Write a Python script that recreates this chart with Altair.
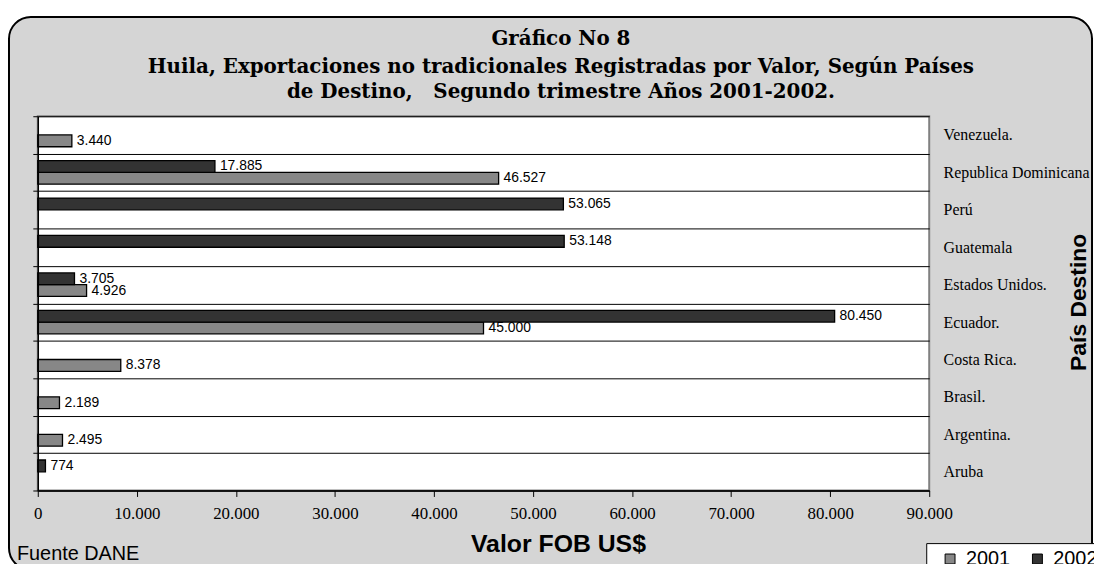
import altair as alt
import pandas as pd

countries = ["Venezuela.", "Republica Dominicana", "Perú", "Guatemala", "Estados Unidos.",
             "Ecuador.", "Costa Rica.", "Brasil.", "Argentina.", "Aruba"]
v2001 = [3440, 46527, None, None, 4926, 45000, 8378, 2189, 2495, None]
v2002 = [None, 17885, 53065, 53148, 3705, 80450, None, None, None, 774]
years = ["2001", "2002"]
x_ticks = [0, 10000, 20000, 30000, 40000, 50000, 60000, 70000, 80000, 90000]
title_lines = ["Gráfico No 8",
               "Huila, Exportaciones no tradicionales Registradas por Valor, Según Países",
               "de Destino,\u00a0\u00a0\u00a0Segundo trimestre Años 2001-2002."]

rows = []
for c, a, b in zip(countries, v2001, v2002):
    if a is not None:
        rows.append({"pais": c, "anio": "2001", "valor": a})
    if b is not None:
        rows.append({"pais": c, "anio": "2002", "valor": b})
df = pd.DataFrame(rows)

W, H = 898, 377
one = pd.DataFrame({"t": ["Fuente DANE"]})
BG = "#d5d5d5"

frame = alt.Chart(one).mark_rect(
    fill=BG, stroke="black", strokeWidth=2, cornerRadius=22
).encode(x=alt.value(-29), x2=alt.value(1062), y=alt.value(-100), y2=alt.value(457))

plotbg = alt.Chart(one).mark_rect(
    fill="white", stroke="#808080", strokeWidth=2
).encode(x=alt.value(0), x2=alt.value(W), y=alt.value(0), y2=alt.value(H))

fuente = alt.Chart(one).mark_text(
    align="left", baseline="alphabetic", font="Liberation Sans", fontSize=20, color="black"
).encode(x=alt.value(-21), y=alt.value(447), text="t:N")

title_marks = []
for line, yb in zip(title_lines, [-72, -44, -18]):
    title_marks.append(
        alt.Chart(pd.DataFrame({"t": [line]})).mark_text(
            align="center", baseline="alphabetic", font="DejaVu Serif", fontSize=20,
            fontWeight="bold", color="black"
        ).encode(x=alt.value(527), y=alt.value(yb), text="t:N")
    )

ysc = alt.Scale(domain=countries, paddingInner=0, paddingOuter=0)
yoff = alt.YOffset("anio:N", sort=["2002", "2001"],
                   scale=alt.Scale(domain=["2002", "2001"], paddingInner=0, paddingOuter=0.59))
xsc = alt.Scale(domain=[0, 90000], nice=False)
xaxis = alt.Axis(values=x_ticks, labelExpr="replace(format(datum.value, ','), ',', '.')",
                 grid=False, domainColor="black", domainWidth=1.5, tickColor="black",
                 tickSize=6, labelFont="Liberation Serif", labelFontSize=17, labelFlush=False,
                 labelColor="black", labelPadding=9, zindex=1,
                 title="Valor FOB US$", titleFont="Liberation Sans", titleFontSize=25,
                 titleFontWeight="bold", titleColor="black", titleX=524, titleY=61,
                 titleBaseline="alphabetic", titleAlign="center")

base = alt.Chart(df).transform_calculate(
    label="replace(format(datum.valor, ','), ',', '.')"
)

bars = base.mark_bar(stroke="black", strokeWidth=1.3).encode(
    x=alt.X("valor:Q", scale=xsc, axis=xaxis),
    y=alt.Y("pais:N", sort=countries, scale=ysc,
            axis=alt.Axis(orient="left", labels=False, ticks=True, tickBand="extent", tickSize=5,
                          tickColor="black", domain=True, domainColor="black", domainWidth=1.5,
                          grid=False, title=None, zindex=1)),
    yOffset=yoff,
    color=alt.Color("anio:N", scale=alt.Scale(domain=years, range=["#878787", "#333333"]),
                    legend=alt.Legend(orient="none", legendX=895, legendY=430, direction="horizontal",
                                      title=None, symbolType="square", symbolSize=100,
                                      symbolStrokeColor="black", symbolStrokeWidth=1,
                                      symbolOffset=8, labelOffset=6,
                                      labelFont="Liberation Sans", labelFontSize=20,
                                      labelColor="black", columnPadding=9, padding=6,
                                      strokeColor="black", fillColor="white")),
)

labels = base.mark_text(align="left", baseline="middle", dx=5, font="Liberation Sans",
                        fontSize=14, color="black").encode(
    x=alt.X("valor:Q", scale=xsc, axis=xaxis),
    y=alt.Y("pais:N", sort=countries, scale=ysc,
            axis=alt.Axis(orient="right", ticks=False, domain=False, grid=True, gridColor="black",
                          gridWidth=1, tickBand="extent", labelFont="Liberation Serif",
                          labelFontSize=16, labelColor="black", labelPadding=14, labelAlign="left",
                          zindex=1, title="País Destino", titleFont="Liberation Sans",
                          titleFontSize=23, titleFontWeight="bold", titleColor="black",
                          titleAngle=270, titleX=150, titleY=187, titleAlign="center",
                          titleBaseline="middle")),
    yOffset=yoff,
    text="label:N",
)

chart = alt.layer(frame, plotbg, bars, labels, fuente, *title_marks).resolve_axis(
    y="independent"
).properties(
    width=W, height=H,
    autosize=alt.AutoSizeParams(type="none"),
    padding={"left": 30, "top": 107, "right": 166, "bottom": 72},
    background="white",
).configure_view(stroke=None)

chart.save("out.html", embed_options={"renderer": "svg", "actions": False})
